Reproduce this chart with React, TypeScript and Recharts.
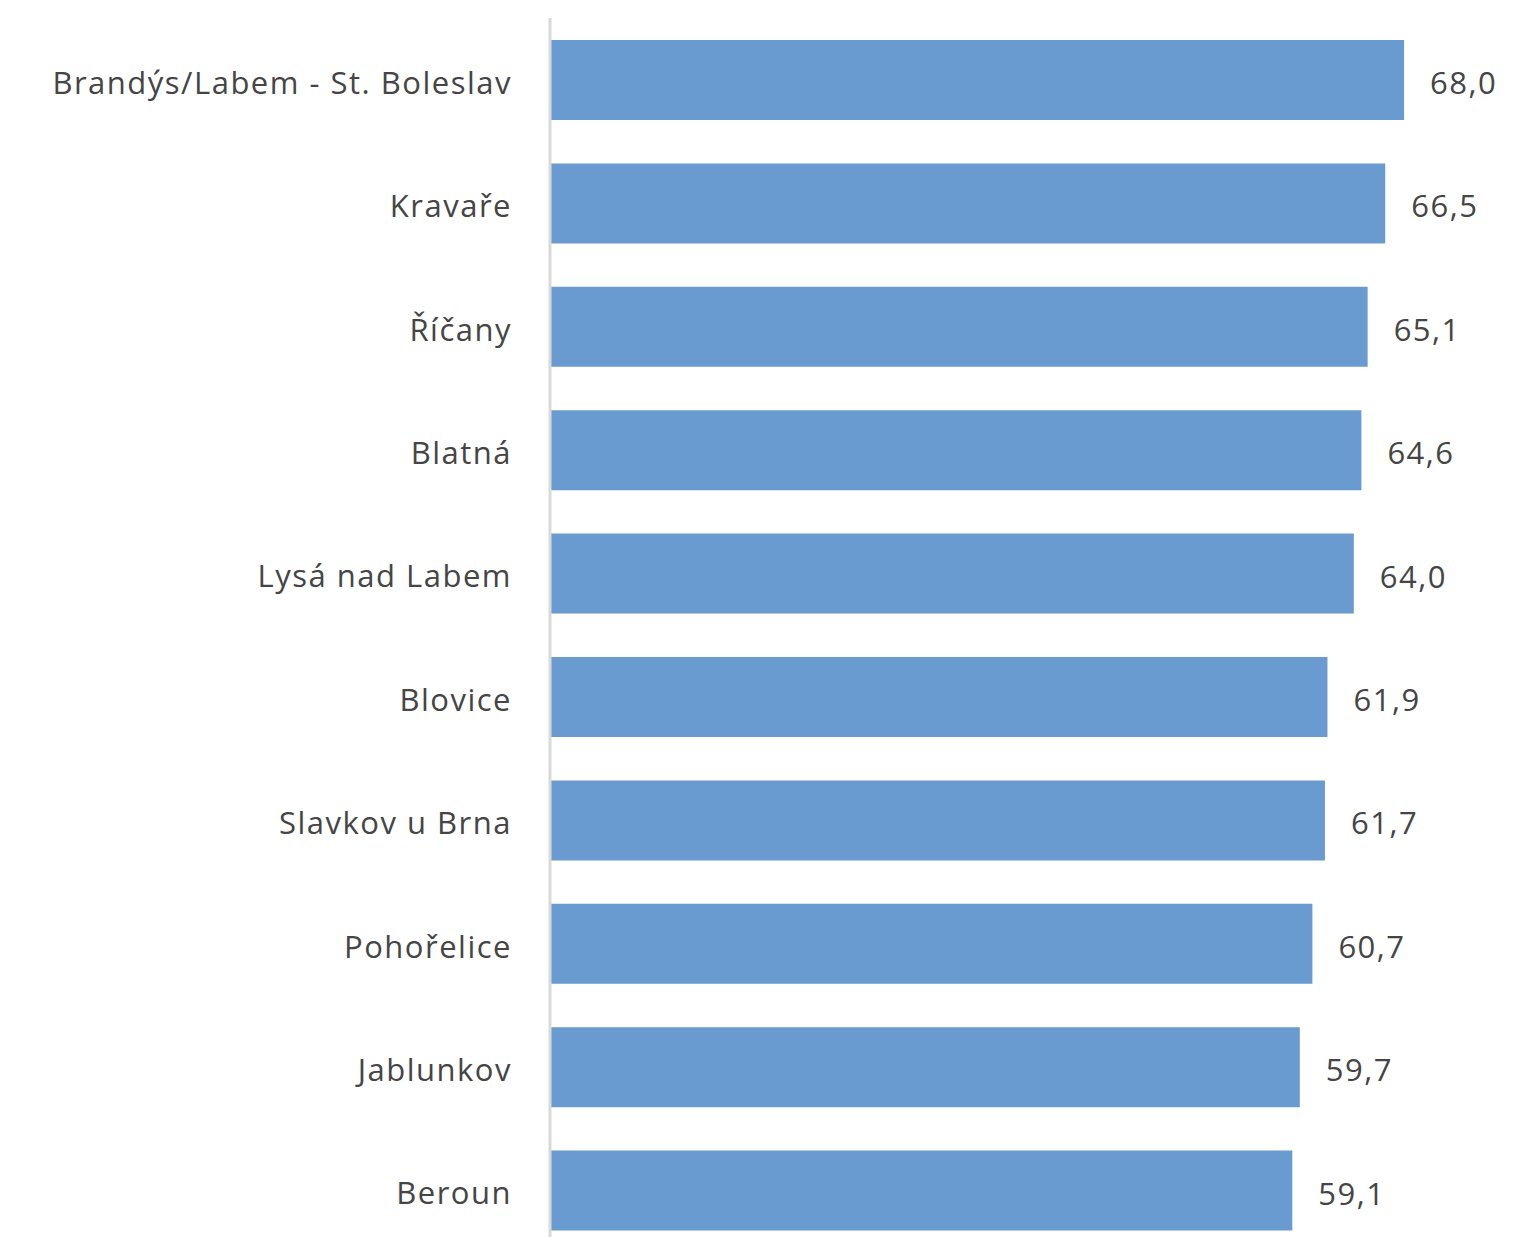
import { BarChart, Bar, XAxis, YAxis, LabelList } from 'recharts'

const CATEGORIES = [
  'Brandýs/Labem - St. Boleslav',
  'Kravaře',
  'Říčany',
  'Blatná',
  'Lysá nad Labem',
  'Blovice',
  'Slavkov u Brna',
  'Pohořelice',
  'Jablunkov',
  'Beroun',
]

const VALUES = [68.0, 66.5, 65.1, 64.6, 64.0, 61.9, 61.7, 60.7, 59.7, 59.1]

const BAR_COLOR = '#6a9bd0'
const TEXT_COLOR = '#454545'
const FONT = '"Open Sans", Lato, sans-serif'

const data = CATEGORIES.map((name, i) => ({ name, value: VALUES[i] }))

const formatValue = (v: any) => (typeof v === 'number' ? v.toFixed(1).replace('.', ',') : v)

export default function App() {
  return (
    <div style={{ position: 'absolute', left: 0, top: 0, width: 1521, height: 1237, overflow: 'hidden', background: '#fff' }}>
      <BarChart
        width={1521}
        height={1252}
        data={data}
        layout="vertical"
        barSize={80}
        margin={{ top: 18, right: 29, bottom: 0, left: 0 }}
      >
        <XAxis type="number" domain={[0, 75]} hide />
        <YAxis
          type="category"
          dataKey="name"
          width={550}
          tickLine={false}
          tickSize={0}
          tickMargin={38}
          axisLine={{ stroke: '#d9d9d9', strokeWidth: 3 }}
          tick={{ fontSize: 31, fill: TEXT_COLOR, fontFamily: FONT, letterSpacing: 1.5, dy: 3 }}
          interval={0}
        />
        <Bar dataKey="value" fill={BAR_COLOR} isAnimationActive={false}>
          <LabelList
            dataKey="value"
            position="right"
            offset={26}
            formatter={formatValue}
            style={{ fontSize: 31, fill: TEXT_COLOR, fontFamily: FONT, letterSpacing: 1.5, transform: 'translateY(3px)' }}
          />
        </Bar>
      </BarChart>
    </div>
  )
}
